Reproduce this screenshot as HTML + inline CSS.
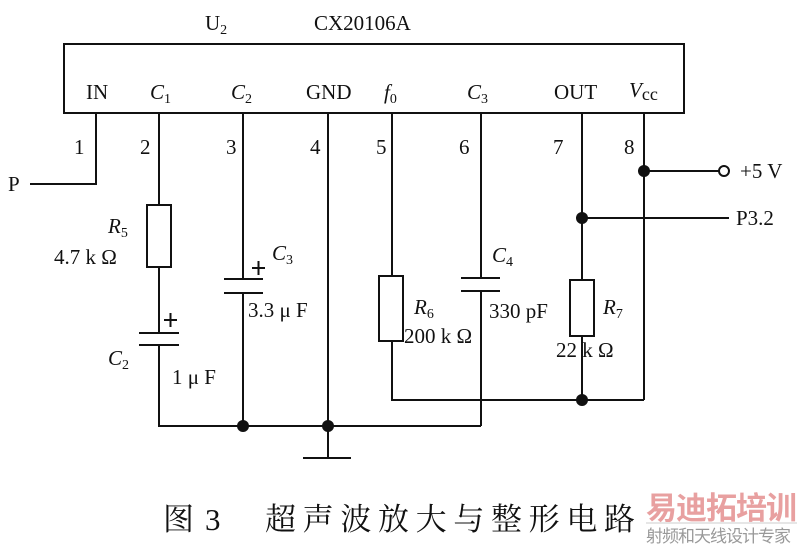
<!DOCTYPE html>
<html><head><meta charset="utf-8"><style>
html,body{margin:0;padding:0;background:#fff;}
svg{display:block}
text{font-family:"Liberation Serif","Noto Serif CJK SC",serif;fill:#111}
</style></head><body>
<svg width="800" height="546" viewBox="0 0 800 546" xmlns="http://www.w3.org/2000/svg">
<g stroke="#111" stroke-width="2" fill="none">
<rect x="64" y="44" width="620" height="69"/>
<polyline points="96,113 96,184 30,184"/>
<line x1="159" y1="113" x2="159" y2="205"/>
<rect x="147" y="205" width="24" height="62" fill="#fff"/>
<line x1="159" y1="267" x2="159" y2="333"/>
<line x1="139" y1="333" x2="179" y2="333"/>
<line x1="139" y1="345" x2="179" y2="345"/>
<polyline points="159,345 159,426 481,426"/>
<line x1="243" y1="113" x2="243" y2="279"/>
<line x1="224" y1="279" x2="263" y2="279"/>
<line x1="224" y1="293" x2="263" y2="293"/>
<line x1="243" y1="293" x2="243" y2="426"/>
<line x1="328" y1="113" x2="328" y2="458"/>
<line x1="303" y1="458" x2="351" y2="458"/>
<line x1="392" y1="113" x2="392" y2="276"/>
<rect x="379" y="276" width="24" height="65" fill="#fff"/>
<polyline points="392,341 392,400 644,400"/>
<line x1="481" y1="113" x2="481" y2="278"/>
<line x1="461" y1="278" x2="500" y2="278"/>
<line x1="461" y1="291" x2="500" y2="291"/>
<line x1="481" y1="291" x2="481" y2="426"/>
<line x1="582" y1="113" x2="582" y2="280"/>
<rect x="570" y="280" width="24" height="56" fill="#fff"/>
<line x1="582" y1="336" x2="582" y2="400"/>
<line x1="582" y1="218" x2="729" y2="218"/>
<line x1="644" y1="113" x2="644" y2="400"/>
<line x1="644" y1="171" x2="719" y2="171"/>
<circle cx="724" cy="171" r="5" fill="#fff"/>
<path d="M164 320h13M170.5 313v14M252 268h13M258.5 261v14"/>
</g>
<g fill="#111">
<circle cx="644" cy="171" r="6"/>
<circle cx="582" cy="218" r="6"/>
<circle cx="582" cy="400" r="6"/>
<circle cx="243" cy="426" r="6"/>
<circle cx="328" cy="426" r="6"/>
</g>
<g font-size="21">
<text x="205" y="30">U<tspan font-size="14" dy="4">2</tspan></text>
<text x="314" y="30">CX20106A</text>
<text x="86" y="99">IN</text>
<text x="150" y="99" font-style="italic">C<tspan font-size="14" dy="4" font-style="normal">1</tspan></text>
<text x="231" y="99" font-style="italic">C<tspan font-size="14" dy="4" font-style="normal">2</tspan></text>
<text x="306" y="99">GND</text>
<text x="384" y="99" font-style="italic">f<tspan font-size="14" dy="4" font-style="normal">0</tspan></text>
<text x="467" y="99" font-style="italic">C<tspan font-size="14" dy="4" font-style="normal">3</tspan></text>
<text x="554" y="99">OUT</text>
<text x="629" y="97" font-style="italic">V<tspan font-size="18" dy="3" font-style="normal">cc</tspan></text>
<text x="74" y="154">1</text>
<text x="140" y="154">2</text>
<text x="226" y="154">3</text>
<text x="310" y="154">4</text>
<text x="376" y="154">5</text>
<text x="459" y="154">6</text>
<text x="553" y="154">7</text>
<text x="624" y="154">8</text>
<text x="8" y="191">P</text>
<text x="740" y="178">+5 V</text>
<text x="736" y="225">P3.2</text>
<text x="108" y="233" font-style="italic">R<tspan font-size="14" dy="4" font-style="normal">5</tspan></text>
<text x="54" y="264">4.7 k Ω</text>
<text x="272" y="260" font-style="italic">C<tspan font-size="14" dy="4" font-style="normal">3</tspan></text>
<text x="248" y="317">3.3 μ F</text>
<text x="108" y="365" font-style="italic">C<tspan font-size="14" dy="4" font-style="normal">2</tspan></text>
<text x="172" y="384">1 μ F</text>
<text x="414" y="314" font-style="italic">R<tspan font-size="14" dy="4" font-style="normal">6</tspan></text>
<text x="404" y="343">200 k Ω</text>
<text x="492" y="262" font-style="italic">C<tspan font-size="14" dy="4" font-style="normal">4</tspan></text>
<text x="489" y="318">330 pF</text>
<text x="603" y="314" font-style="italic">R<tspan font-size="14" dy="4" font-style="normal">7</tspan></text>
<text x="556" y="357">22 k Ω</text>
</g>
<g font-size="31">
<text x="163" y="530">图</text>
<text x="205" y="530">3</text>
<text x="265" y="530" textLength="370" lengthAdjust="spacing">超声波放大与整形电路</text>
</g>
<text x="646" y="519" font-size="31" font-weight="bold" style="fill:#e8a0a0;font-family:'Liberation Sans','Noto Sans CJK SC',sans-serif" letter-spacing="-1">易迪拓培训</text>
<line x1="646" y1="523" x2="797" y2="523" stroke="#ccc" stroke-width="1"/>
<text x="646" y="542" font-size="17" style="fill:#999;font-family:'Liberation Sans','Noto Sans CJK SC',sans-serif" letter-spacing="-1">射频和天线设计专家</text>
</svg>
</body></html>
